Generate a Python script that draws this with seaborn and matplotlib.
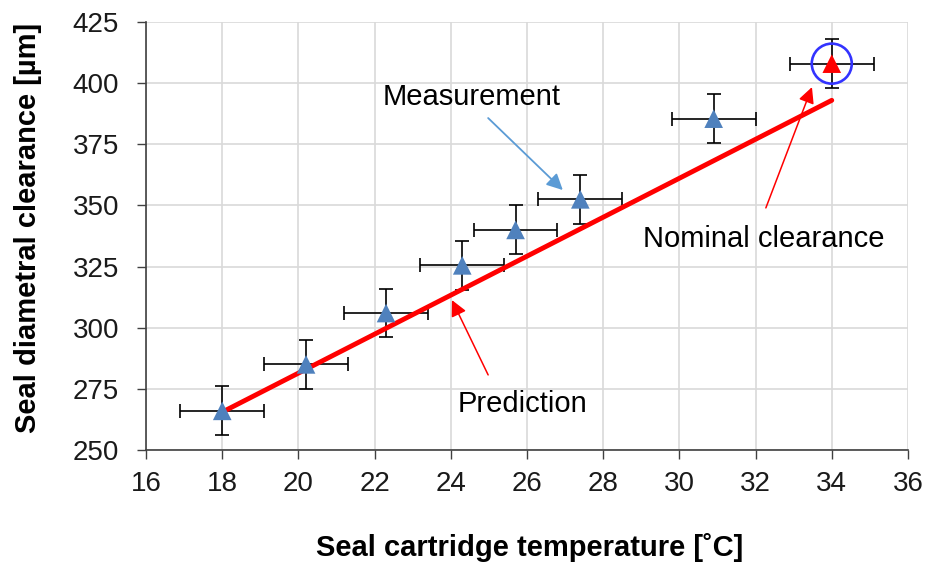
import matplotlib
matplotlib.use("Agg")
import matplotlib.pyplot as plt
import seaborn as sns
import pandas as pd

# Data
temp = [18.0, 20.2, 22.3, 24.3, 25.7, 27.4, 30.9]
clearance = [266, 285, 306, 325.5, 340, 352.5, 385.5]
temp_err = [1.1, 1.1, 1.1, 1.1, 1.1, 1.1, 1.1]
clear_err = [10, 10, 10, 10, 10, 10, 10]

nominal_temp = [34.0]
nominal_clear = [408]
nominal_temp_err = [1.1]
nominal_clear_err = [10]

pred_temp = [18.0, 34.0]
pred_clear = [265.5, 393]

x_ticks = [16, 18, 20, 22, 24, 26, 28, 30, 32, 34, 36]
y_ticks = [250, 275, 300, 325, 350, 375, 400, 425]

sns.set_theme(style="white")
plt.rcParams['font.family'] = ['Liberation Sans', 'DejaVu Sans']
plt.rcParams['text.color'] = 'black'

fig = plt.figure(figsize=(9.32, 5.66), dpi=100)
ax = fig.add_axes([0.1567, 0.205, 0.8175, 0.756])

meas = pd.DataFrame({"T": temp, "C": clearance})
nom = pd.DataFrame({"T": nominal_temp, "C": nominal_clear})
pred = pd.DataFrame({"T": pred_temp, "C": pred_clear})

ax.errorbar(temp, clearance, xerr=temp_err, yerr=clear_err, fmt='none',
            ecolor='black', elinewidth=1.2, capsize=5, capthick=1.2, zorder=2)
ax.errorbar(nominal_temp, nominal_clear, xerr=nominal_temp_err, yerr=nominal_clear_err,
            fmt='none', ecolor='black', elinewidth=1.2, capsize=5, capthick=1.2, zorder=2)

sns.lineplot(data=pred, x="T", y="C", color="#ff0000", linewidth=3.5, ax=ax, zorder=3)
sns.scatterplot(data=meas, x="T", y="C", marker="^", s=180, color="#4F81BD",
                edgecolor="none", ax=ax, zorder=4)
sns.scatterplot(data=nom, x="T", y="C", marker="^", s=180, color="#ff0000",
                edgecolor="none", ax=ax, zorder=4)
# circle around nominal point
ax.scatter(nominal_temp, nominal_clear, s=830, facecolors='none',
           edgecolors='#3333ff', linewidths=1.9, zorder=5)

ax.set_xlim(16, 36)
ax.set_ylim(250, 425)
ax.set_xticks(x_ticks)
ax.set_yticks(y_ticks)
ax.tick_params(axis='both', labelsize=20, length=6.5, width=1, color='#404040',
               labelcolor='#1a1a1a', direction='out', left=True, bottom=True)
ax.tick_params(axis='x', pad=9)
ax.tick_params(axis='y', pad=13)
ax.grid(True, color='#d9d9d9', linewidth=1.2)
for s in ['top', 'right']:
    ax.spines[s].set_visible(False)
for s in ['left', 'bottom']:
    ax.spines[s].set_color('#404040')
    ax.spines[s].set_linewidth(1.2)

ax.set_xlabel("Seal cartridge temperature [˚C]", fontsize=21, fontweight='bold', color='black')
ax.set_ylabel("Seal diametral clearance [µm]", fontsize=21, fontweight='bold', color='black')
ax.xaxis.set_label_coords(0.504, -0.229)
ax.xaxis.label.set_va('center')
ax.yaxis.set_label_coords(-0.155, 0.52)
ax.yaxis.label.set_va('center')

ax.text(22.22, 394.2, "Measurement", fontsize=21, ha='left', va='center', color='black')
ax.annotate("", xy=(26.94, 356.3), xytext=(24.98, 385.75),
            arrowprops=dict(arrowstyle='-|>', color='#5B9BD5', lw=1.3, mutation_scale=24,
                            shrinkA=0, shrinkB=0))
ax.text(24.19, 268.8, "Prediction", fontsize=21, ha='left', va='center', color='black')
ax.annotate("", xy=(24.03, 311.3), xytext=(24.98, 280.7),
            arrowprops=dict(arrowstyle='-|>', color='#ff0000', lw=1.1, mutation_scale=24,
                            shrinkA=0, shrinkB=0))
ax.text(29.04, 336.3, "Nominal clearance", fontsize=21, ha='left', va='center', color='black')
ax.annotate("", xy=(33.48, 398.4), xytext=(32.27, 349),
            arrowprops=dict(arrowstyle='-|>', color='#ff0000', lw=1.1, mutation_scale=24,
                            shrinkA=0, shrinkB=0))

fig.savefig("out.png", dpi=100)
